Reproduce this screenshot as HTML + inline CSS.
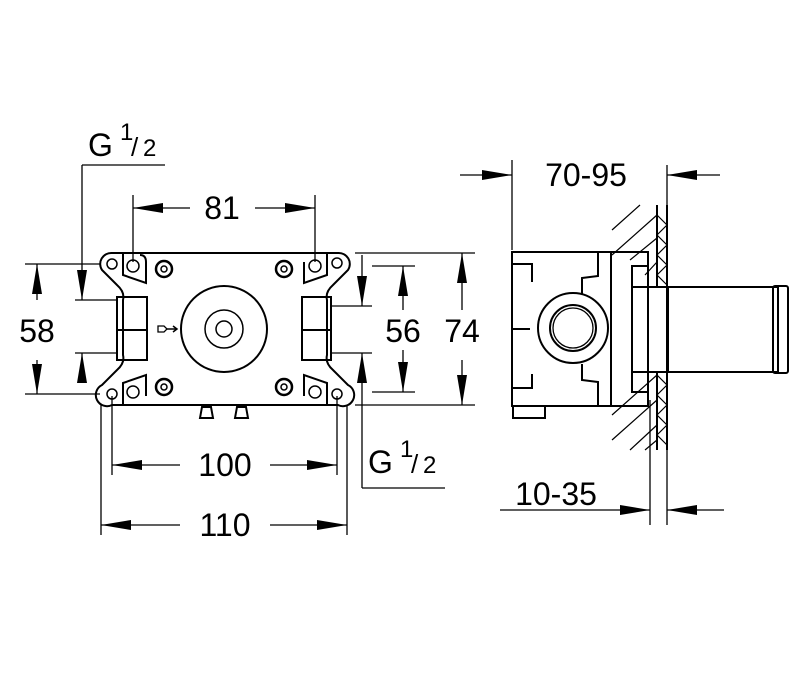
<!DOCTYPE html>
<html><head><style>html,body{margin:0;padding:0;background:#fff}svg{display:block}</style></head>
<body>
<svg width="800" height="699" viewBox="0 0 800 699" xmlns="http://www.w3.org/2000/svg" font-family="Liberation Sans, sans-serif">
<defs>
<marker id="b" markerWidth="30" markerHeight="10" refX="30" refY="5" orient="auto" markerUnits="userSpaceOnUse"><path d="M0,0 L30,5 L0,10 z" fill="#000"/></marker>
</defs>
<g fill="none" stroke="#000" stroke-width="1.3">
<line x1="82" y1="165" x2="165" y2="165"/>
<line x1="82" y1="165" x2="82" y2="300" marker-end="url(#b)"/>
<line x1="82" y1="380" x2="82" y2="353" marker-end="url(#b)"/>
<line x1="75" y1="300" x2="117" y2="300"/><line x1="75" y1="353" x2="117" y2="353"/>
<line x1="25" y1="264" x2="100" y2="264"/><line x1="25" y1="394" x2="100" y2="394"/>
<line x1="37" y1="300" x2="37" y2="264" marker-end="url(#b)"/>
<line x1="37" y1="360" x2="37" y2="394" marker-end="url(#b)"/>
<line x1="133" y1="195" x2="133" y2="262"/><line x1="315" y1="195" x2="315" y2="262"/>
<line x1="190" y1="208" x2="133" y2="208" marker-end="url(#b)"/>
<line x1="255" y1="208" x2="315" y2="208" marker-end="url(#b)"/>
<line x1="372" y1="266" x2="415" y2="266"/><line x1="372" y1="392" x2="415" y2="392"/>
<line x1="403" y1="310" x2="403" y2="266" marker-end="url(#b)"/>
<line x1="403" y1="350" x2="403" y2="392" marker-end="url(#b)"/>
<line x1="355" y1="253" x2="475" y2="253"/><line x1="355" y1="405" x2="475" y2="405"/>
<line x1="462" y1="310" x2="462" y2="253" marker-end="url(#b)"/>
<line x1="462" y1="360" x2="462" y2="405" marker-end="url(#b)"/>
<line x1="362" y1="255" x2="362" y2="306" marker-end="url(#b)"/>
<line x1="362" y1="488" x2="362" y2="353" marker-end="url(#b)"/>
<line x1="362" y1="488" x2="445" y2="488"/>
<line x1="331" y1="306" x2="372" y2="306"/><line x1="331" y1="353" x2="372" y2="353"/>
<line x1="112" y1="396" x2="112" y2="475"/><line x1="337" y1="396" x2="337" y2="475"/>
<line x1="180" y1="465" x2="112" y2="465" marker-end="url(#b)"/>
<line x1="270" y1="465" x2="337" y2="465" marker-end="url(#b)"/>
<line x1="101" y1="405" x2="101" y2="535"/><line x1="347" y1="405" x2="347" y2="535"/>
<line x1="180" y1="525" x2="101" y2="525" marker-end="url(#b)"/>
<line x1="270" y1="525" x2="347" y2="525" marker-end="url(#b)"/>
<line x1="512" y1="160" x2="512" y2="250"/><line x1="667" y1="165" x2="667" y2="205"/>
<line x1="460" y1="175" x2="512" y2="175" marker-end="url(#b)"/>
<line x1="720" y1="175" x2="667" y2="175" marker-end="url(#b)"/>
<line x1="650" y1="400" x2="650" y2="525"/><line x1="667" y1="450" x2="667" y2="525"/>
<line x1="500" y1="510" x2="650" y2="510" marker-end="url(#b)"/>
<line x1="724" y1="510" x2="667" y2="510" marker-end="url(#b)"/>
</g>
<g fill="none" stroke="#000" stroke-width="2">
<path d="M112,253 L338,253 A11,11 0 0 1 348,270 L333,285 Q325,292 327,300 L327,355 Q325,363 333,370 L348,385 A11,11 0 0 1 338,405 L112,405 A11,11 0 0 1 102,385 L117,370 Q125,363 123,355 L123,300 Q125,292 117,285 L102,270 A11,11 0 0 1 112,253 Z"/>
<path d="M123,253 L123,275 L146,283 L146,262 Q146,255 140,255"/>
<path d="M327,253 L327,275 L304,283 L304,262"/>
<path d="M123,405 L123,383 L146,375 L146,396"/>
<path d="M327,405 L327,383 L304,375 L304,396"/>
<rect x="117" y="297" width="30" height="63"/><line x1="117" y1="330" x2="147" y2="330"/>
<rect x="302" y="297" width="29" height="63"/><line x1="302" y1="330" x2="331" y2="330"/>
<circle cx="224" cy="329" r="43"/><circle cx="224" cy="329" r="19" stroke-width="1.5"/><circle cx="224" cy="329" r="8" stroke-width="1.5"/>
<path d="M200,418 L202,407 L211,407 L213,418 Z M235,418 L237,407 L246,407 L248,418 Z"/>
<rect x="512" y="252" width="136" height="154"/>
<rect x="513" y="406" width="32" height="12"/>
<path d="M598,252 L598,276 L582,278 L582,294 M598,406 L598,382 L582,380 L582,364"/>
<line x1="611" y1="252" x2="611" y2="406"/>
<path d="M512,264 L532,264 L532,282 M512,388 L532,388 L532,374"/>
<line x1="512" y1="329" x2="530" y2="329"/>
<circle cx="573" cy="328" r="35"/><circle cx="573" cy="328" r="23"/><circle cx="573" cy="328" r="20" stroke-width="1.3"/>
<path d="M648,266 L632,266 L632,392 L648,392"/>
<rect x="632" y="287" width="146" height="85"/>
<line x1="668" y1="287" x2="668" y2="372"/>
<rect x="773" y="286" width="15" height="87" rx="2"/>
<line x1="657" y1="205" x2="657" y2="287"/><line x1="657" y1="372" x2="657" y2="450"/>
<line x1="667" y1="205" x2="667" y2="450"/>
</g>
<g stroke="#000" stroke-width="1.2" fill="none">
<path d="M612,230 L640,205 M612,255 L657,215 M630,260 L657,238 M645,275 L657,262 M612,415 L657,375 M612,440 L657,400 M630,450 L657,425 M645,450 L657,440"/>
<path d="M657,215 L667,225 L657,235 L667,245 L657,255 L667,265 L657,275 L667,285 M657,375 L667,385 L657,395 L667,405 L657,415 L667,425 L657,435 L667,445"/>
</g>
<g fill="none" stroke="#000" stroke-width="1.5">
<circle cx="112" cy="264" r="5"/><circle cx="337" cy="263" r="5"/>
<circle cx="112" cy="394" r="5"/><circle cx="337" cy="394" r="5"/>
<circle cx="133" cy="266" r="6"/><circle cx="315" cy="266" r="6"/><circle cx="133" cy="392" r="6"/><circle cx="315" cy="392" r="6"/>
<circle cx="164" cy="269" r="8" stroke-width="2.5"/><circle cx="164" cy="269" r="3"/>
<circle cx="284" cy="269" r="8" stroke-width="2.5"/><circle cx="284" cy="269" r="3"/>
<circle cx="164" cy="387" r="8" stroke-width="2.5"/><circle cx="164" cy="387" r="3"/>
<circle cx="284" cy="387" r="8" stroke-width="2.5"/><circle cx="284" cy="387" r="3"/>
<path d="M158,326 L164,326 L167,329 L164,332 L158,332 Z" stroke-width="1.3"/>
<path d="M167,329 L177,329 M173,326 L177,329 L173,332"/>
</g>
<g font-size="32" fill="#000">
<text x="88" y="156">G</text><text x="120" y="140" font-size="24">1</text><text x="131" y="156" font-size="26">/</text><text x="143" y="156" font-size="24">2</text>
<text x="368" y="473">G</text><text x="400" y="457" font-size="24">1</text><text x="411" y="473" font-size="26">/</text><text x="423" y="473" font-size="24">2</text>
<text x="222" y="219" text-anchor="middle">81</text>
<text x="37" y="342" text-anchor="middle">58</text>
<text x="403" y="342" text-anchor="middle">56</text>
<text x="462" y="342" text-anchor="middle">74</text>
<text x="225" y="476" text-anchor="middle">100</text>
<text x="225" y="536" text-anchor="middle">110</text>
<text x="586" y="186" text-anchor="middle">70-95</text>
<text x="556" y="505" text-anchor="middle">10-35</text>
</g>
</svg>
</body></html>
